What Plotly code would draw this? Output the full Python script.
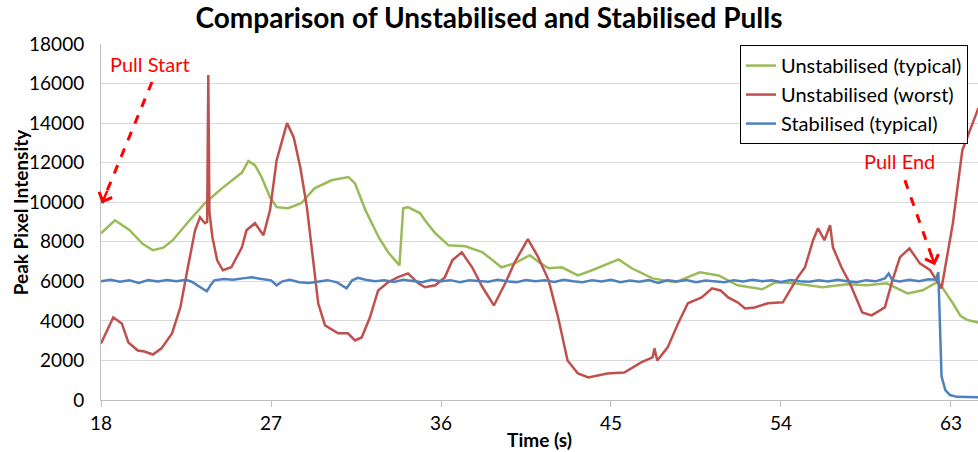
import plotly.graph_objects as go

# ---------------- data ----------------
green_t = [18.0, 18.74, 19.5, 20.2, 20.75, 21.3, 21.8, 22.6, 23.5, 24.4, 25.46, 25.8, 26.15, 26.5,
           26.95, 27.3, 27.9, 28.6, 29.3, 30.2, 31.1, 31.45, 32.0, 32.7, 33.2, 33.8, 34.0, 34.25,
           34.9, 35.15, 35.7, 36.4, 37.3, 38.2, 39.2, 39.9, 40.7, 41.2, 41.7, 42.4, 43.25, 44.0,
           45.4, 46.1, 47.2, 48.4, 49.7, 50.7, 51.7, 53.0, 53.7, 54.7, 56.2, 57.5, 58.55, 59.6,
           60.7, 61.5, 62.15, 62.35, 63.1, 63.5, 63.85, 64.45]
green_v = [8430, 9090, 8600, 7900, 7570, 7700, 8080, 8990, 9950, 10700, 11500, 12080, 11870, 11270,
           10250, 9750, 9700, 9950, 10700, 11110, 11270, 10950, 9600, 8230, 7470, 6810, 9700, 9750,
           9440, 9090, 8430, 7820, 7770, 7470, 6710, 6910, 7320, 6960, 6660, 6710, 6300, 6560,
           7110, 6660, 6150, 5950, 6460, 6300, 5800, 5600, 5950, 5900, 5700, 5850, 5800, 5900,
           5390, 5550, 5900, 5950, 4890, 4250, 4050, 3920]

red_t = [18.0, 18.65, 19.1, 19.45, 19.95, 20.3, 20.75, 21.2, 21.76, 22.2, 22.6, 22.98, 23.24, 23.5,
         23.62, 23.68, 23.74, 23.9, 24.15, 24.45, 24.9, 25.46, 25.7, 26.15, 26.6, 26.95, 27.3, 27.85,
         28.2, 28.55, 28.9, 29.2, 29.5, 29.86, 30.55, 31.07, 31.45, 31.8, 32.24, 32.67, 33.2, 33.7,
         34.25, 34.8, 35.15, 35.7, 36.2, 36.6, 37.1, 37.65, 38.2, 38.8, 39.4, 39.9, 40.6, 41.15,
         41.7, 42.2, 42.7, 43.25, 43.8, 44.8, 45.7, 46.6, 47.2, 47.3, 47.45, 48.0, 48.55, 49.07,
         49.8, 50.35, 50.8, 51.2, 51.7, 52.1, 52.6, 53.3, 54.1, 54.85, 55.27, 55.7, 55.96, 56.3,
         56.6, 56.75, 57.2, 57.65, 58.3, 58.8, 59.5, 59.9, 60.3, 60.8, 61.35, 61.9, 62.3, 62.5,
         63.1, 63.6, 64.45]
red_v = [2860, 4180, 3870, 2910, 2500, 2450, 2300, 2610, 3370, 4680, 6710, 8580, 9240, 8940,
         9000, 16430, 9500, 8230, 7060, 6560, 6710, 7720, 8580, 8940, 8330, 9600, 12130, 14000,
         13290, 11770, 9750, 7420, 4890, 3770, 3370, 3370, 3010, 3160, 4180, 5540, 5950, 6200,
         6400, 5900, 5700, 5800, 6200, 7060, 7470, 6710, 5700, 4780, 5900, 6960, 8130, 7220,
         6050, 4180, 2000, 1340, 1140, 1340, 1390, 1900, 2150, 2610, 2000, 2660, 3870, 4890,
         5190, 5650, 5540, 5190, 4940, 4630, 4680, 4890, 4940, 6150, 6710, 8080, 8680, 8080,
         8840, 7720, 6710, 5900, 4430, 4280, 4680, 6050, 7220, 7670, 6910, 6560, 5950, 5650,
         8940, 12630, 14760]

blue_t = [18.0, 18.5, 19.0, 19.5, 20.0, 20.5, 21.0, 21.5, 22.0, 22.5, 22.8, 23.1, 23.4, 23.6,
          23.8, 24.0, 24.5, 25.0, 25.5, 26.0, 26.5, 27.0, 27.3, 27.6, 28.0, 28.5, 29.0, 29.5,
          30.0, 30.5, 31.0, 31.3, 31.6, 32.0, 32.5, 33.0, 33.5, 34.0, 34.5, 35.0, 35.5, 36.0,
          36.5, 37.0, 37.5, 38.0, 38.5, 39.0, 39.5, 40.0, 40.5, 41.0, 41.5, 42.0, 42.5, 43.0,
          43.5, 44.0, 44.5, 45.0, 45.5, 46.0, 46.5, 47.0, 47.5, 48.0, 48.5, 49.0, 49.5, 50.0,
          50.5, 51.0, 51.5, 52.0, 52.5, 53.0, 53.5, 54.0, 54.5, 55.0, 55.5, 56.0, 56.5, 57.0,
          57.5, 58.0, 58.5, 59.0, 59.5, 59.7, 59.9, 60.3, 60.8, 61.3, 61.8, 62.2, 62.33, 62.42,
          62.5, 62.7, 62.95, 63.3, 64.0, 64.45]
blue_v = [6000, 6080, 5980, 6050, 5920, 6060, 5990, 6070, 6000, 6080, 5980, 5800, 5650, 5500,
          5800, 6050, 6120, 6080, 6150, 6200, 6120, 6050, 5800, 6000, 6080, 5950, 5920, 6000,
          6060, 5950, 5650, 6050, 6180, 6080, 6000, 6050, 5970, 6080, 6020, 5950, 6080, 6000,
          6060, 5960, 6050, 6020, 5980, 6080, 6000, 5960, 6070, 6000, 6050, 5970, 6080, 6000,
          5950, 6060, 5990, 6080, 5950, 6040, 5980, 6060, 5920, 6050, 5990, 6070, 5960, 6040,
          6000, 5950, 6060, 5990, 6080, 6000, 6050, 5970, 6070, 6000, 5980, 6060, 5990, 6080,
          6000, 5960, 6060, 6000, 6150, 6400, 6050, 5990, 6080, 6000, 6100, 6080, 6460, 3500,
          1200, 500, 250, 160, 140, 140]

series_names = ["Unstabilised (typical)", "Unstabilised (worst)", "Stabilised (typical)"]
series_colors = ["#9BBB59", "#C0504D", "#4F81BD"]

x_ticks = [18, 27, 36, 45, 54, 63]
y_ticks = [0, 2000, 4000, 6000, 8000, 10000, 12000, 14000, 16000, 18000]

# annotation anchors (time, value)
start_label = (20.6, 16990)
start_arrow = ([20.7, 18.05], [16080, 9950])
end_label = (60.3, 12080)
end_arrow = ([60.56, 62.15], [11110, 6810])

FONT = "Lato"
RED = "#FF0000"

fig = go.Figure()
for t, v, name, col in zip([green_t, red_t, blue_t], [green_v, red_v, blue_v],
                           series_names, series_colors):
    fig.add_trace(go.Scatter(x=t, y=v, mode="lines", name=name,
                             line=dict(color=col, width=2.5)))

# dashed arrow shafts (the heads are annotation arrows)
for ax_x, ax_y in [start_arrow, end_arrow]:
    fig.add_trace(go.Scatter(
        x=ax_x, y=ax_y, mode="lines", showlegend=False, hoverinfo="skip",
        line=dict(color=RED, width=3, dash="dash"), cliponaxis=False))

fig.add_annotation(x=start_arrow[0][1], y=start_arrow[1][1], ax=6, ay=-14, text="",
                   showarrow=True, arrowhead=4, arrowsize=1.1, arrowwidth=2.5,
                   arrowcolor=RED, standoff=0)
fig.add_annotation(x=end_arrow[0][1], y=end_arrow[1][1], ax=-5, ay=-14, text="",
                   showarrow=True, arrowhead=4, arrowsize=1.1, arrowwidth=2.5,
                   arrowcolor=RED, standoff=0)

fig.add_annotation(x=start_label[0], y=start_label[1], text="Pull Start", showarrow=False,
                   font=dict(family=FONT, size=20, color=RED))
fig.add_annotation(x=end_label[0], y=end_label[1], text="Pull End", showarrow=False,
                   font=dict(family=FONT, size=20, color=RED))

# y-axis title
fig.add_annotation(text="<b>Peak Pixel Intensity</b>", xref="paper", yref="paper",
                   x=-0.0924, y=0.53, xanchor="center", yanchor="middle", textangle=-90,
                   showarrow=False, font=dict(family=FONT, size=19, color="#000000"))

fig.update_layout(
    width=978, height=452,
    margin=dict(l=101, r=0, t=44, b=52),
    paper_bgcolor="white", plot_bgcolor="white",
    font=dict(family=FONT, size=19, color="#000000"),
    title=dict(text="<b>Comparison of Unstabilised and Stabilised Pulls</b>",
               x=0.5, xref="container", xanchor="center", y=0.96, yanchor="middle",
               font=dict(family=FONT, size=28, color="#000000")),
    legend=dict(x=0.9886, y=0.997, xanchor="right", yanchor="top",
                bgcolor="white", bordercolor="#000000", borderwidth=1,
                font=dict(family=FONT, size=20), tracegroupgap=0,
                itemwidth=30),
    showlegend=True,
)
fig.update_xaxes(range=[18, 64.43], tickvals=x_ticks, showgrid=False,
                 showline=True, linecolor="#BFBFBF", linewidth=1,
                 ticks="outside", ticklen=6, tickcolor="#BFBFBF",
                 tickfont=dict(family=FONT, size=19),
                 title=dict(text="<b>Time (s)</b>", font=dict(family=FONT, size=19), standoff=0),
                 zeroline=False)
fig.update_yaxes(range=[0, 18000], tickvals=y_ticks, tickformat="d",
                 showgrid=True, gridcolor="#D9D9D9",
                 gridwidth=1, showline=True, linecolor="#BFBFBF", linewidth=1,
                 ticks="", tickfont=dict(family=FONT, size=19), ticklabelstandoff=12,
                 zeroline=False)

fig.write_html("out.html")
